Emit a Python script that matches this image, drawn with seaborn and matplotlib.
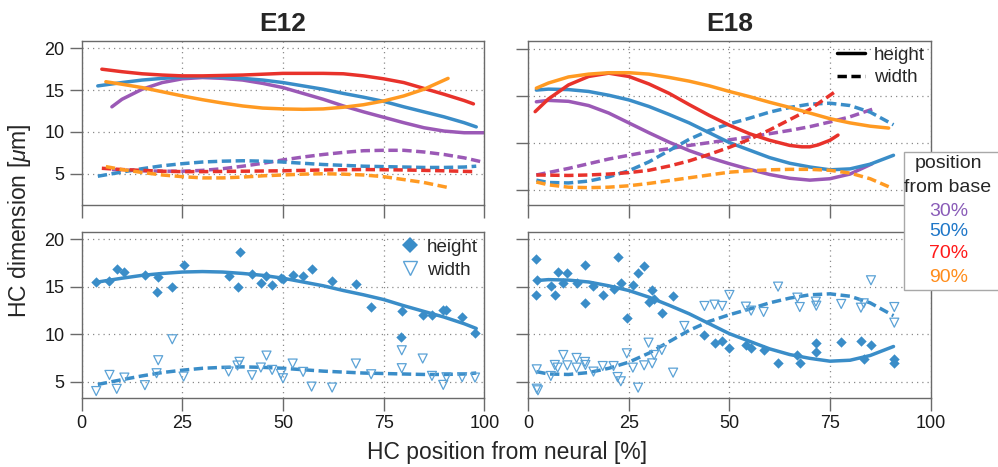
import numpy as np
import pandas as pd
import seaborn as sns
import matplotlib
matplotlib.use("Agg")
import matplotlib.pyplot as plt
from matplotlib.lines import Line2D
from matplotlib.patches import Rectangle

# ---------------- data ----------------
positions = ["30%", "50%", "70%", "90%"]
x_ticks = [0, 25, 50, 75, 100]
y_ticks = [5, 10, 15, 20]

# E12 fitted curves (height = solid, width = dashed)
e12_h30_x = [7.5, 10, 15, 20, 25, 30, 35, 40, 45, 50, 55, 60, 65, 70, 75, 80, 85, 90, 95, 100]
e12_h30_y = [13.0, 13.9, 15.1, 15.9, 16.35, 16.5, 16.4, 16.2, 15.8, 15.3, 14.6, 13.9, 13.1, 12.4, 11.75, 11.1, 10.5, 10.1, 9.9, 9.9]
e12_h50_x = [4, 10, 15, 20, 25, 30, 35, 40, 45, 50, 55, 60, 65, 70, 75, 80, 85, 90, 95, 98]
e12_h50_y = [15.5, 15.9, 16.2, 16.4, 16.55, 16.6, 16.55, 16.4, 16.2, 15.9, 15.5, 15.1, 14.6, 14.15, 13.65, 13.0, 12.4, 11.8, 11.1, 10.6]
e12_h70_x = [5, 10, 15, 20, 25, 30, 35, 40, 45, 50, 55, 60, 65, 70, 75, 80, 85, 90, 95, 97.3]
e12_h70_y = [17.5, 17.2, 16.95, 16.8, 16.7, 16.7, 16.75, 16.8, 16.9, 17.0, 17.0, 17.0, 16.95, 16.7, 16.35, 15.9, 15.2, 14.5, 13.75, 13.35]
e12_h90_x = [6, 10, 15, 20, 25, 30, 35, 40, 45, 50, 55, 60, 65, 70, 75, 80, 85, 91]
e12_h90_y = [16.0, 15.7, 15.3, 14.8, 14.3, 13.85, 13.45, 13.1, 12.85, 12.75, 12.7, 12.75, 12.95, 13.25, 13.7, 14.3, 15.1, 16.4]

e12_w30_x = [7.5, 10, 15, 20, 25, 30, 35, 40, 45, 50, 55, 60, 65, 70, 75, 80, 85, 90, 95, 100]
e12_w30_y = [5.5, 5.45, 5.35, 5.3, 5.3, 5.4, 5.6, 5.9, 6.25, 6.65, 7.0, 7.3, 7.55, 7.75, 7.8, 7.8, 7.6, 7.3, 6.9, 6.35]
e12_w50_x = [4, 10, 15, 20, 25, 30, 35, 40, 45, 50, 55, 60, 65, 70, 75, 80, 85, 90, 95, 98]
e12_w50_y = [4.7, 5.2, 5.6, 5.95, 6.2, 6.4, 6.5, 6.55, 6.5, 6.4, 6.25, 6.1, 6.0, 5.9, 5.85, 5.8, 5.75, 5.75, 5.8, 5.9]
e12_w70_x = [5, 10, 15, 20, 25, 30, 40, 50, 60, 70, 80, 90, 97.3]
e12_w70_y = [5.65, 5.5, 5.4, 5.3, 5.25, 5.25, 5.3, 5.35, 5.45, 5.5, 5.45, 5.35, 5.25]
e12_w90_x = [6, 10, 15, 20, 25, 30, 35, 40, 45, 50, 55, 60, 65, 70, 75, 80, 85, 91]
e12_w90_y = [5.85, 5.5, 5.15, 4.85, 4.65, 4.5, 4.5, 4.6, 4.75, 4.85, 4.95, 5.0, 4.95, 4.85, 4.65, 4.3, 3.95, 3.35]

# E18 fitted curves
e18_h30_x = [2, 5, 10, 15, 20, 25, 30, 35, 40, 45, 50, 55, 60, 65, 70, 75, 80, 85.5]
e18_h30_y = [14.4, 14.55, 14.45, 14.0, 13.2, 12.15, 11.1, 10.1, 9.2, 8.45, 7.8, 7.2, 6.65, 6.25, 6.05, 6.2, 6.7, 7.8]
e18_h50_x = [2, 5, 10, 15, 20, 25, 30, 35, 40, 45, 50, 55, 60, 65, 70, 75, 80, 85, 90.8]
e18_h50_y = [15.65, 15.75, 15.7, 15.5, 15.1, 14.6, 13.9, 13.05, 12.15, 11.1, 10.05, 9.25, 8.45, 7.85, 7.45, 7.15, 7.25, 7.75, 8.7]
e18_h70_x = [1.7, 5, 10, 15, 20, 25, 30, 35, 40, 45, 50, 55, 60, 65, 68, 70, 72, 75, 77]
e18_h70_y = [13.35, 14.7, 16.2, 17.1, 17.45, 17.1, 16.3, 15.3, 14.1, 12.95, 11.9, 11.0, 10.3, 9.75, 9.6, 9.6, 9.8, 10.3, 10.85]
e18_h90_x = [2, 5, 10, 15, 20, 25, 30, 35, 40, 45, 50, 55, 60, 65, 70, 75, 80, 85, 89.6]
e18_h90_y = [15.85, 16.4, 17.05, 17.35, 17.5, 17.5, 17.35, 17.0, 16.6, 16.1, 15.5, 14.95, 14.35, 13.8, 13.2, 12.6, 12.15, 11.8, 11.6]

e18_w30_x = [2, 10, 15, 20, 25, 30, 35, 40, 45, 50, 55, 60, 65, 70, 75, 80, 85.5]
e18_w30_y = [6.6, 7.3, 7.8, 8.3, 8.7, 9.1, 9.4, 9.75, 10.05, 10.35, 10.65, 11.0, 11.35, 11.75, 12.25, 12.8, 13.6]
e18_w50_x = [2, 5, 10, 15, 20, 25, 30, 35, 40, 45, 50, 55, 60, 65, 70, 75, 80, 85, 90.8]
e18_w50_y = [6.05, 5.8, 5.75, 5.95, 6.4, 7.05, 8.0, 9.2, 10.4, 11.35, 12.05, 12.65, 13.3, 13.8, 14.15, 14.25, 14.0, 13.3, 11.95]
e18_w70_x = [2, 10, 15, 20, 25, 30, 35, 40, 45, 50, 55, 60, 65, 70, 76.7]
e18_w70_y = [6.6, 6.55, 6.6, 6.7, 6.85, 7.1, 7.55, 8.1, 8.8, 9.55, 10.4, 11.4, 12.5, 13.6, 15.6]
e18_w90_x = [2, 5, 10, 15, 20, 25, 30, 35, 40, 45, 50, 55, 60, 65, 70, 75, 80, 85, 89.6]
e18_w90_y = [5.85, 5.55, 5.3, 5.25, 5.3, 5.45, 5.7, 6.0, 6.3, 6.6, 6.9, 7.05, 7.15, 7.2, 7.2, 7.1, 6.8, 6.2, 5.35]

# E12 single-cell measurements (50% position)
e12_pt_h_x = [3.6, 6.9, 8.7, 10.6, 15.7, 18.6, 19.0, 22.5, 25.3, 36.5, 38.7, 39.2, 42.3, 44.5, 45.9, 47.3,
              49.5, 50.0, 52.4, 55.0, 57.1, 62.2, 68.1, 71.9, 79.5, 79.3, 84.7, 87.0, 89.8, 90.6, 94.5, 97.7]
e12_pt_h_y = [15.5, 15.57, 16.84, 16.56, 16.24, 14.42, 16.07, 14.98, 17.33, 16.1, 14.94, 18.67, 16.35, 15.4, 16.1, 15.19,
              15.96, 15.85, 16.28, 16.1, 16.84, 15.6, 15.3, 12.87, 12.41, 9.74, 12.03, 12.03, 12.55, 12.55, 11.78, 10.1]
e12_pt_w_x = [3.6, 6.9, 8.7, 10.6, 15.7, 18.6, 19.0, 22.5, 25.3, 36.5, 38.7, 39.2, 42.3, 44.5, 45.9, 47.3,
              49.5, 50.0, 52.4, 55.0, 57.1, 62.2, 68.1, 71.9, 79.5, 79.5, 84.7, 87.0, 89.8, 90.6, 94.5, 97.7]
e12_pt_w_y = [4.0, 5.7, 4.23, 5.42, 4.62, 5.88, 7.25, 9.46, 5.53, 6.06, 6.69, 7.08, 5.67, 6.48, 7.74, 6.23,
              5.81, 5.35, 6.9, 6.02, 4.47, 4.37, 6.9, 5.77, 6.41, 8.3, 7.43, 5.6, 4.65, 5.46, 5.46, 5.42]

# E18 single-cell measurements (50% position)
e18_pt_h_x = [1.9, 2.2, 1.9, 5.6, 6.6, 7.3, 8.7, 9.7, 12.0, 14.1, 14.1, 16.2, 18.5, 21.2, 22.2, 23.0, 24.5, 26.0,
              27.3, 28.8, 29.9, 30.8, 31.3, 33.2, 36.0, 43.8, 46.3, 48.2, 50.0, 54.1, 55.4, 58.5, 62.1, 66.9,
              67.5, 71.5, 71.6, 77.8, 82.7, 83.4, 85.2, 91.0, 91.0]
e18_pt_h_y = [17.96, 15.71, 14.17, 15.08, 14.1, 16.56, 15.36, 16.41, 15.36, 17.26, 13.25, 15.08, 14.17, 14.8, 18.17,
              15.43, 11.67, 15.15, 16.41, 17.19, 13.39, 14.62, 13.74, 12.2, 13.99, 9.88, 9.03, 9.24, 8.51, 8.9,
              8.54, 8.33, 7.0, 7.8, 7.0, 8.12, 9.1, 9.17, 9.28, 7.35, 8.86, 7.35, 6.92]
e18_pt_w_x = [2.1, 2.1, 2.4, 5.6, 6.6, 7.3, 8.7, 9.7, 12.0, 12.0, 14.1, 14.2, 16.2, 18.5, 21.2, 22.2, 23.0, 24.5,
              26.0, 27.3, 28.8, 29.9, 30.8, 31.3, 33.2, 36.0, 38.8, 43.8, 46.3, 48.2, 50.0, 54.1, 55.4, 58.5,
              62.1, 66.9, 67.5, 71.5, 71.6, 77.8, 82.7, 83.4, 85.2, 91.0, 91.0]
e18_pt_w_y = [6.29, 4.25, 4.08, 5.59, 6.75, 6.47, 7.8, 6.71, 7.49, 6.47, 7.07, 6.75, 6.05, 6.64, 6.64, 5.48, 5.03,
              7.98, 6.47, 4.36, 6.71, 9.1, 6.92, 7.8, 8.33, 5.94, 10.86, 12.97, 13.11, 12.97, 14.13, 12.9, 12.48,
              12.34, 15.01, 13.85, 12.86, 13.43, 13.0, 13.18, 12.79, 13.25, 15.68, 12.86, 11.21]

# ---------------- style ----------------
line_colors = {"30%": "#9B59B6", "50%": "#3A8DC8", "70%": "#E8322B", "90%": "#FF9A22"}
text_colors = {"30%": "#8A5CB8", "50%": "#1F77C8", "70%": "#FF1A1A", "90%": "#FF8C1A"}
dash_map = {"height": "", "width": (2.7, 1.3)}

sns.set_style("white")
plt.rcParams["font.family"] = ["Liberation Sans", "DejaVu Sans"]
plt.rcParams["mathtext.fontset"] = "custom"
plt.rcParams["mathtext.rm"] = "Liberation Sans"
plt.rcParams["mathtext.it"] = "Liberation Sans:italic"

W, H = 998, 467
fig = plt.figure(figsize=(W / 100, H / 100), dpi=100)


def box(x0, y0, x1, y1):
    return [x0 / W, 1 - y1 / H, (x1 - x0) / W, (y1 - y0) / H]


ax_tl = fig.add_axes(box(81.7, 41, 484.3, 205))
ax_tr = fig.add_axes(box(528.3, 41, 930.5, 205))
ax_bl = fig.add_axes(box(81.7, 232.3, 484.3, 397.7))
ax_br = fig.add_axes(box(528.3, 232.3, 930.5, 397.7))


def curves_frame(curves):
    frames = []
    for pos, dim, xs, ys in curves:
        frames.append(pd.DataFrame({"x": xs, "y": ys, "pos": pos, "dim": dim}))
    return pd.concat(frames, ignore_index=True)


e12_df = curves_frame([
    ("30%", "height", e12_h30_x, e12_h30_y), ("50%", "height", e12_h50_x, e12_h50_y),
    ("70%", "height", e12_h70_x, e12_h70_y), ("90%", "height", e12_h90_x, e12_h90_y),
    ("30%", "width", e12_w30_x, e12_w30_y), ("50%", "width", e12_w50_x, e12_w50_y),
    ("70%", "width", e12_w70_x, e12_w70_y), ("90%", "width", e12_w90_x, e12_w90_y),
])
e18_df = curves_frame([
    ("30%", "height", e18_h30_x, e18_h30_y), ("50%", "height", e18_h50_x, e18_h50_y),
    ("70%", "height", e18_h70_x, e18_h70_y), ("90%", "height", e18_h90_x, e18_h90_y),
    ("30%", "width", e18_w30_x, e18_w30_y), ("50%", "width", e18_w50_x, e18_w50_y),
    ("70%", "width", e18_w70_x, e18_w70_y), ("90%", "width", e18_w90_x, e18_w90_y),
])

LW = 2.5
for ax, df in [(ax_tl, e12_df), (ax_tr, e18_df)]:
    sns.lineplot(data=df, x="x", y="y", hue="pos", style="dim", palette=line_colors,
                 dashes=dash_map, estimator=None, sort=False, linewidth=LW,
                 legend=False, ax=ax)

# bottom row: fits for 50% + single-cell points
e12_fit = e12_df[e12_df["pos"] == "50%"]
e18_fit = e18_df[e18_df["pos"] == "50%"]
pt_blue = "#3A8DC8"
tri_blue = "#5BA2D6"
for ax, fit, hx, hy, wx, wy in [
    (ax_bl, e12_fit, e12_pt_h_x, e12_pt_h_y, e12_pt_w_x, e12_pt_w_y),
    (ax_br, e18_fit, e18_pt_h_x, e18_pt_h_y, e18_pt_w_x, e18_pt_w_y),
]:
    sns.lineplot(data=fit, x="x", y="y", style="dim", dashes=dash_map, color=pt_blue,
                 estimator=None, sort=False, linewidth=LW, legend=False, ax=ax)
    sns.scatterplot(x=hx, y=hy, marker="D", color=pt_blue, s=28, linewidth=0, ax=ax, zorder=3)
    sns.scatterplot(x=wx, y=wy, marker="v", color=tri_blue, s=42, linewidth=0.9,
                    edgecolor=tri_blue, ax=ax, zorder=3)
    ax.collections[-1].set_facecolor("none")

ylims = {ax_tl: (1.26, 20.87), ax_tr: (3.4, 20.88), ax_bl: (3.3, 20.74), ax_br: (3.3, 20.74)}
spine_col = "#6A6A6A"
for ax in [ax_tl, ax_tr, ax_bl, ax_br]:
    ax.set_xlim(0, 100)
    ax.set_ylim(*ylims[ax])
    ax.set_xticks(x_ticks)
    ax.set_yticks(y_ticks)
    ax.set_xlabel("")
    ax.set_ylabel("")
    ax.grid(True, linestyle=(0, (1, 3.2)), color="#8A8A8A", linewidth=0.9)
    ax.set_axisbelow(True)
    for sp in ax.spines.values():
        sp.set_color(spine_col)
        sp.set_linewidth(1.0)
        sp.set_visible(True)
    ax.tick_params(axis="both", direction="out", length=9, width=1.0, color=spine_col,
                   labelsize=13, labelcolor="#1A1A1A", pad=3.5,
                   bottom=True, left=True, top=False, right=False)

for ax in [ax_tl, ax_tr]:
    ax.tick_params(labelbottom=False)
for ax in [ax_tr, ax_br]:
    ax.tick_params(labelleft=False)
for ax in [ax_bl, ax_br]:
    ax.set_xticklabels([str(t) for t in x_ticks])
for ax in [ax_tl, ax_bl]:
    ax.set_yticklabels([str(t) for t in y_ticks])

# legends
leg_tr = ax_tr.legend(handles=[Line2D([], [], color="black", lw=LW, linestyle="-"),
                               Line2D([], [], color="black", lw=LW, dashes=dash_map["width"])],
                      labels=["height", "width"], loc="upper right", frameon=False,
                      fontsize=13.5, handlelength=1.45, handletextpad=0.5,
                      borderaxespad=0.1, borderpad=0.2, labelspacing=0.3)
leg_bl = ax_bl.legend(handles=[Line2D([], [], marker="D", color=pt_blue, linestyle="none", markersize=8,
                                      markeredgewidth=0),
                               Line2D([], [], marker="v", color=tri_blue, markerfacecolor="none",
                                      linestyle="none", markersize=9.5, markeredgewidth=1.0)],
                      labels=["height", "width"], loc="upper right", frameon=False,
                      fontsize=13.5, handlelength=1.0, handletextpad=0.4,
                      borderaxespad=0.15, borderpad=0.2, labelspacing=0.3)

# titles and axis labels
fig.text(283 / W, 1 - 24 / H, "E12", ha="center", va="center", fontsize=19, fontweight="bold")
fig.text(729.4 / W, 1 - 24 / H, "E18", ha="center", va="center", fontsize=19, fontweight="bold")
fig.text(20 / W, 1 - 221 / H, r"HC dimension [$\mu$m]", ha="center", va="center",
         rotation=90, fontsize=16.5)
fig.text(506.7 / W, 1 - 453 / H, "HC position from neural [%]", ha="center", va="center", fontsize=16.5)

# position-from-base key
fig.add_artist(Rectangle((904 / W, 1 - 290 / H), 100 / W, (290 - 151.7) / H,
                         transform=fig.transFigure, facecolor="white", edgecolor="#A8A8A8",
                         linewidth=1.0, zorder=5))
fig.text(948 / W, 1 - 164 / H, "position", ha="center", va="center", fontsize=14, zorder=6)
fig.text(948 / W, 1 - 187 / H, "from base", ha="center", va="center", fontsize=14, zorder=6)
for pos, yy in zip(positions, [212, 232, 254, 277]):
    fig.text(949 / W, 1 - yy / H, pos, ha="center", va="center", fontsize=14,
             color=text_colors[pos], zorder=6)

fig.savefig("out.png", dpi=100)
